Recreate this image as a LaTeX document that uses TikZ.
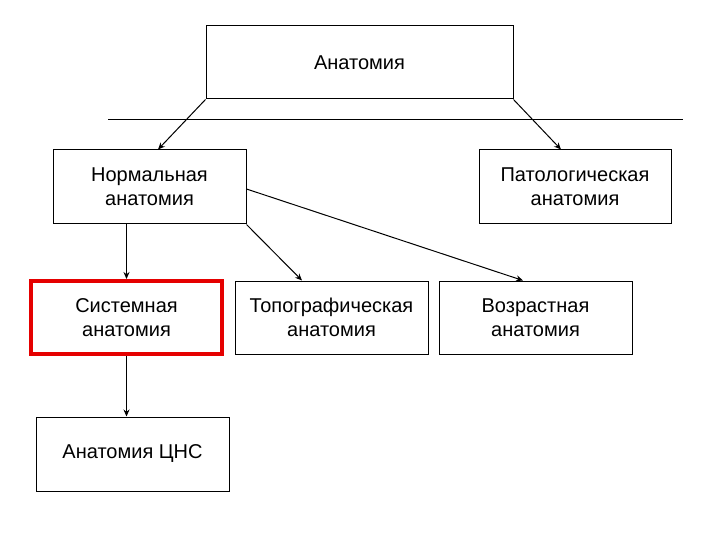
\documentclass[tikz,border=0pt]{standalone}
\usepackage{fontspec}
\setmainfont{Liberation Sans}
\usetikzlibrary{arrows.meta,positioning}

\begin{document}
\begin{tikzpicture}[
          x=1pt, y=-1pt, >={Stealth[length=7pt,width=6pt]},
          font=\fontsize{20}{24}\selectfont,
          box/.style={rectangle, draw=black, line width=1pt,
              minimum width=193pt, minimum height=74pt,
              align=center, inner sep=2pt},
          hibox/.style={box, draw=red!90!black, line width=4pt,
              minimum width=191pt, minimum height=73pt},
          arr/.style={->, line width=1pt}
      ]
      \useasboundingbox (0,0) rectangle (720,540);
      \node[box, minimum width=307pt, minimum height=73pt] (anat) at (359.5, 62.5) {\raisebox{-3pt}{Анатомия}};
      \node[box]   (norm)  at (149.5, 187)   {Нормальная\\анатомия};
      \node[box, minimum width=192pt] (patho) at (575, 187) {Патологическая\\анатомия};
      \node[hibox] (sys)   at (126.5, 317.5) {Системная\\анатомия};
      \node[box, minimum height=73pt] (topo) at (331.5, 317.5) {Топографическая\\анатомия};
      \node[box, minimum height=73pt] (age)  at (535.5, 317.5) {Возрастная\\анатомия};
      \node[box]   (cns)   at (132.5, 454)   {Анатомия ЦНС};
      \coordinate (rulel) at (108, 120);
      \coordinate (ruler) at (683, 120);
      \draw[line width=1pt] (rulel) -- (ruler);
      \draw[arr] (anat.south west) -- ([xshift=8.5pt]norm.north);
      \draw[arr] (anat.south east) -- ([xshift=-14pt]patho.north);
      \draw[arr] (norm.south -| sys.north) -- (sys.north);
      \draw[arr] (norm.south east) -- ([xshift=-29.5pt]topo.north);
      \draw[arr] ([yshift=-2pt]norm.east) -- ([xshift=-12.5pt]age.north);
      \draw[arr] (sys.south) -- (sys.south |- cns.north);
      \end{tikzpicture}
\end{document}
